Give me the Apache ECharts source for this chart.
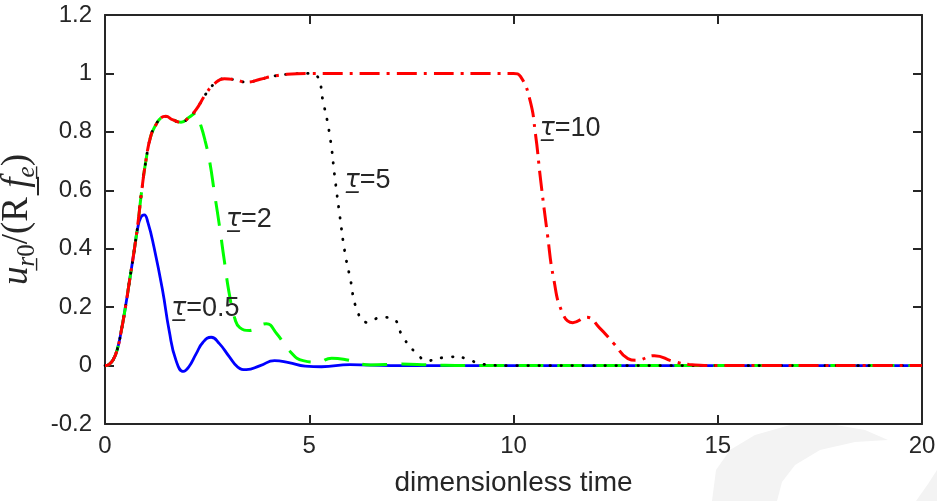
<!DOCTYPE html>
<html>
<head>
<meta charset="utf-8">
<script src="https://cdn.jsdelivr.net/npm/echarts@6/dist/echarts.min.js"></script>
<style>html,body{margin:0;padding:0;background:#fff;}#c{width:937px;height:501px;}</style>
</head>
<body>
<div id="c"></div>
<script>
// ---- data ----
const tBlue = [0,0.1,0.2,0.3,0.4,0.5,0.6,0.7,0.8,0.88,0.96,1.05,1.2,1.41,1.57,1.74,1.92,2.05,2.23,2.4,2.6,2.8,3.05,3.25,3.46,3.8,4.15,4.5,4.9,5.3,6.0,7.0,20];
const uBlue = [0,0.004,0.02,0.055,0.12,0.2,0.29,0.38,0.47,0.508,0.516,0.49,0.405,0.257,0.12,0.017,-0.02,-0.005,0.04,0.08,0.097,0.075,0.029,-0.005,-0.014,0.0,0.017,0.01,-0.002,-0.004,0.003,0,0];

const tGreen = [0,0.1,0.2,0.3,0.4,0.5,0.6,0.7,0.8,0.9,1.0,1.12,1.25,1.37,1.49,1.65,1.86,2.06,2.23,2.35,2.45,2.56,2.68,2.8,2.92,3.05,3.18,3.3,3.54,3.75,3.95,4.2,4.52,4.85,5.2,5.55,5.9,6.5,7.2,8.0,9.0,20];
const uGreen = [0,0.004,0.02,0.055,0.12,0.2,0.29,0.38,0.48,0.6,0.7,0.785,0.825,0.848,0.853,0.842,0.833,0.85,0.865,0.82,0.77,0.70,0.59,0.48,0.36,0.24,0.16,0.13,0.12,0.135,0.143,0.11,0.05,0.017,0.012,0.025,0.02,0.002,0.005,0.002,0,0];

const tBlack = [0,0.1,0.2,0.3,0.4,0.5,0.6,0.7,0.8,0.9,1.0,1.12,1.25,1.37,1.49,1.65,1.86,2.06,2.23,2.47,2.68,2.92,3.2,3.46,3.8,4.1,4.45,5.0,5.2,5.33,5.5,5.63,5.75,5.87,6.0,6.17,6.41,6.78,7.05,7.3,7.64,7.9,8.45,8.86,9.2,10,20];
const uBlack = [0,0.004,0.02,0.055,0.12,0.2,0.29,0.38,0.48,0.6,0.7,0.785,0.825,0.848,0.853,0.842,0.833,0.85,0.876,0.93,0.965,0.982,0.978,0.97,0.98,0.99,0.997,1.0,0.99,0.91,0.79,0.64,0.51,0.39,0.30,0.19,0.148,0.165,0.16,0.096,0.04,0.017,0.03,0.024,0.005,0,0];

const tRed = [0,0.1,0.2,0.3,0.4,0.5,0.6,0.7,0.8,0.9,1.0,1.12,1.25,1.37,1.49,1.65,1.86,2.06,2.23,2.47,2.68,2.92,3.2,3.46,3.8,4.1,4.45,5.0,7.0,10.0,10.17,10.4,10.54,10.66,10.83,10.98,11.2,11.45,11.8,12.1,12.46,12.8,13.0,13.45,13.9,14.3,15,20];
const uRed = [0,0.004,0.02,0.055,0.12,0.2,0.29,0.38,0.48,0.6,0.7,0.785,0.825,0.848,0.853,0.842,0.833,0.85,0.876,0.93,0.965,0.982,0.978,0.97,0.98,0.99,0.997,1.0,1.0,1.0,0.99,0.91,0.79,0.64,0.45,0.30,0.18,0.147,0.165,0.13,0.075,0.024,0.018,0.034,0.015,0.004,0,0];

const labelText = ['0.5','2','5','10'];
const labelT = [1.62, 2.96, 5.87, 10.64];
const labelU = [0.195, 0.50, 0.634, 0.81];

const xTicks = [0,5,10,15,20];
const yTicks = [-0.2,0,0.2,0.4,0.6,0.8,1,1.2];

// ---- build ----
const zip = (t,u) => t.map((v,i)=>[v,u[i]]);
const axisColor = '#262626';
const fontSans = 'Liberation Sans, Arial, Helvetica, sans-serif';

function mk(i){
  return {
    coord:[labelT[i], labelU[i]],
    symbol:'circle', symbolSize:0,
    label:{show:true, position:'right', distance:0,
      formatter:'{t|τ\u0332}=' + labelText[i],
      color:axisColor, fontFamily:fontSans, fontSize:27,
      rich:{t:{fontStyle:'italic', fontFamily:'DejaVu Sans', fontSize:25, color:axisColor}}}
  };
}

const series = [
  {name:'b', type:'line', data:zip(tBlue,uBlue), showSymbol:false, smooth:0.5,
   lineStyle:{color:'#0000ff', width:2.8}, z:2,
   markPoint:{data:[mk(0)], animation:false}},
  {name:'g', type:'line', data:zip(tGreen,uGreen), showSymbol:false, smooth:0.5,
   lineStyle:{color:'#00ff00', width:3, type:[25,14]}, z:3,
   markPoint:{data:[mk(1)], animation:false}},
  {name:'k', type:'line', data:zip(tBlack,uBlack), showSymbol:false, smooth:0.5,
   lineStyle:{color:'#000000', width:2.8, type:[0.5,10.5], cap:'round'}, z:4,
   markPoint:{data:[mk(2)], animation:false}},
  {name:'r', type:'line', data:zip(tRed,uRed), showSymbol:false, smooth:0.5,
   lineStyle:{color:'#ff0000', width:3, type:[20,7,3,7]}, z:5,
   markPoint:{data:[mk(3)], animation:false}}
];

const chart = echarts.init(document.getElementById('c'), null, {renderer:'canvas'});
chart.setOption({
  animation:false,
  backgroundColor:'#ffffff',
  graphic:[
    {type:'polygon', silent:true, z:-10,
     shape:{points:[[712,501],[716,470],[730,450],[755,435],[790,425],[830,424],[865,430],[888,440],[855,442],[820,450],[795,465],[782,482],[777,501]]},
     style:{fill:'#f3f3f3'}},
    {type:'polygon', silent:true, z:-10,
     shape:{points:[[916,501],[928,484],[937,470],[937,501]]},
     style:{fill:'#f3f3f3'}}
  ],
  grid:{left:105, right:15, top:15, bottom:77, containLabel:false, outerBoundsMode:'none', show:false},
  xAxis:[
    {type:'value', min:xTicks[0], max:xTicks[xTicks.length-1], interval:5, position:'bottom',
     name:'dimensionless time', nameLocation:'middle', nameGap:45,
     nameTextStyle:{fontFamily:fontSans, fontSize:28, color:axisColor},
     axisLine:{show:true, onZero:false, lineStyle:{color:axisColor, width:2}},
     axisTick:{show:true, inside:true, length:9, lineStyle:{color:axisColor, width:2}},
     axisLabel:{show:true, margin:10, fontFamily:fontSans, fontSize:24, color:axisColor},
     splitLine:{show:false}},
    {type:'value', min:xTicks[0], max:xTicks[xTicks.length-1], interval:5, position:'top',
     axisLine:{show:true, onZero:false, lineStyle:{color:axisColor, width:2}},
     axisTick:{show:true, inside:true, length:9, lineStyle:{color:axisColor, width:2}},
     axisLabel:{show:false}, splitLine:{show:false}}
  ],
  yAxis:[
    {type:'value', min:yTicks[0], max:yTicks[yTicks.length-1], interval:0.2, position:'left',
     name:'{i|u}{s|r\u0332}{s0|0}{n|/(R }{i|f\u0332}{s|e\u0332}{n|)}',
     nameLocation:'middle', nameRotate:90, nameGap:58,
     nameTextStyle:{color:axisColor, fontFamily:'Liberation Serif', fontSize:36, lineHeight:44,
       rich:{
         i:{fontFamily:'Liberation Serif', fontStyle:'italic', fontSize:37, color:axisColor, lineHeight:44},
         n:{fontFamily:'Liberation Serif', fontSize:37, color:axisColor, lineHeight:44},
         s:{fontFamily:'Liberation Serif', fontStyle:'italic', fontSize:25, color:axisColor, verticalAlign:'bottom', lineHeight:44},
         s0:{fontFamily:'Liberation Serif', fontSize:25, color:axisColor, verticalAlign:'bottom', lineHeight:44}
       }},
     axisLine:{show:true, onZero:false, lineStyle:{color:axisColor, width:2}},
     axisTick:{show:true, inside:true, length:9, lineStyle:{color:axisColor, width:2}},
     axisLabel:{show:true, margin:13, fontFamily:fontSans, fontSize:24, color:axisColor},
     splitLine:{show:false}},
    {type:'value', min:yTicks[0], max:yTicks[yTicks.length-1], interval:0.2, position:'right',
     axisLine:{show:true, onZero:false, lineStyle:{color:axisColor, width:2}},
     axisTick:{show:true, inside:true, length:9, lineStyle:{color:axisColor, width:2}},
     axisLabel:{show:false}, splitLine:{show:false}}
  ],
  series:series
});
</script>
</body>
</html>
